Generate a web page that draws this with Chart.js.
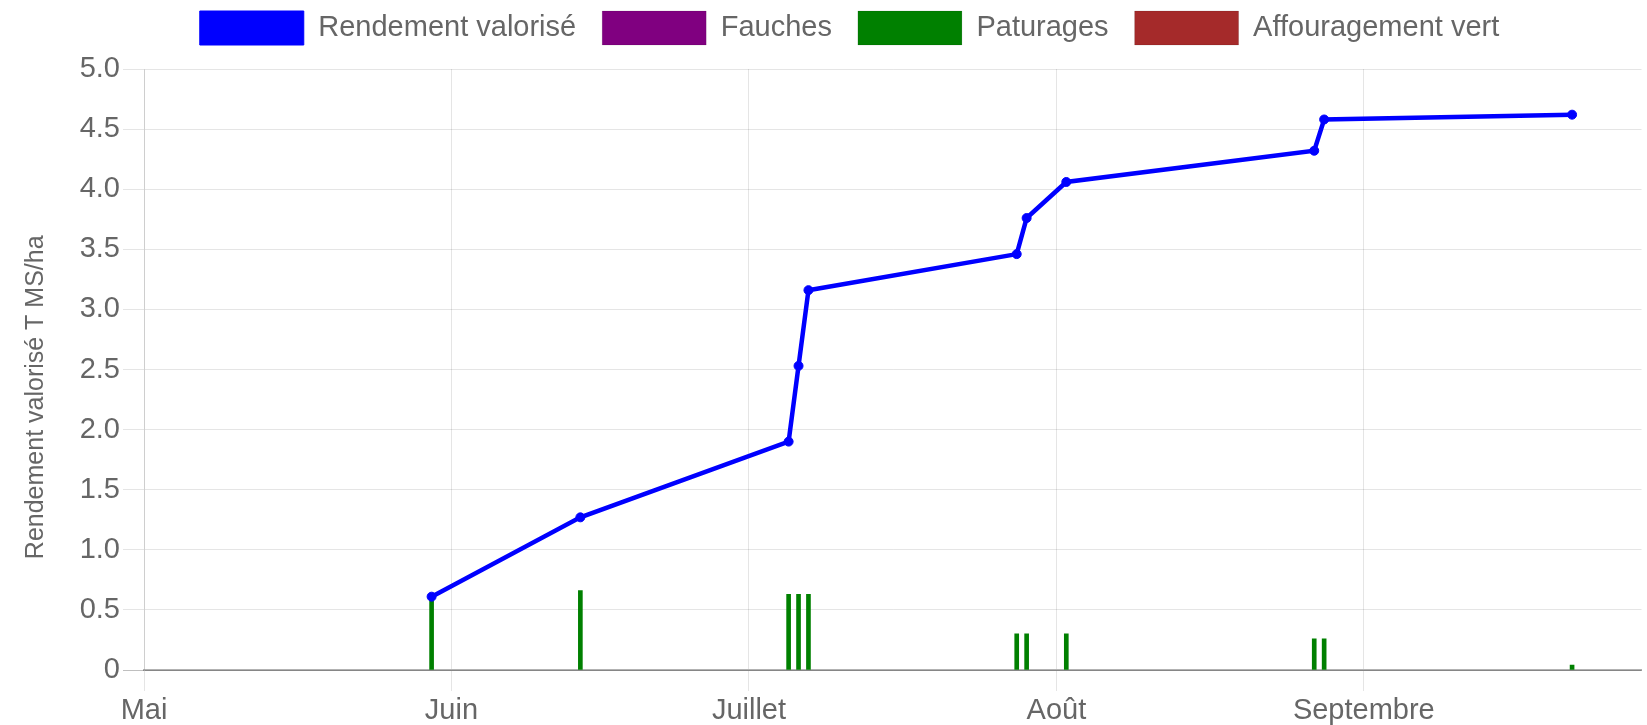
<!DOCTYPE html>
<html lang="fr">
<head>
<meta charset="utf-8">
<title>Rendement valorisé</title>
<script src="https://cdn.jsdelivr.net/npm/chart.js@4.4.0/dist/chart.umd.min.js"></script>
<style>
  html, body { margin: 0; padding: 0; background: #fff; overflow: hidden; }
  #wrap { width: 1647px; height: 725px; }
</style>
</head>
<body>
<div id="wrap"><canvas id="rendementChart"></canvas></div>
<script>
// axe x en jours depuis le 1er mai
const moisDebut = [0, 31, 61, 92, 123];
const moisNoms = ['Mai', 'Juin', 'Juillet', 'Août', 'Septembre'];
const finSaison = 151;

// dates des passages (jours depuis le 1er mai)
const joursPassage = [29, 44, 65, 66, 67, 88, 89, 93, 118, 119, 144];
// rendement valorisé cumulé, T MS/ha
const rendementCumule = [0.61, 1.27, 1.90, 2.53, 3.16, 3.46, 3.76, 4.06, 4.32, 4.58, 4.62];
// part de chaque passage
const paturages = [0.61, 0.66, 0.63, 0.63, 0.63, 0.30, 0.30, 0.30, 0.26, 0.26, 0.04];
const fauches = [];
const affouragementVert = [];

const toPoints = (jours, valeurs) => valeurs.map((v, i) => ({ x: jours[i], y: v }));

Chart.defaults.font.family = "'Liberation Sans', Arial, Helvetica, sans-serif";
Chart.defaults.color = '#666';

// décale la légende comme sur l'original
const legendeDecalee = {
    id: 'legendeDecalee',
    afterLayout(chart) {
        const lg = chart.legend;
        if (!lg) return;
        lg.left += 26;
        lg.right += 26;
        lg.top -= 14;
        lg.bottom -= 14;
    }
};

const ctx = document.getElementById('rendementChart').getContext('2d');
new Chart(ctx, {
    type: 'bar',
    data: {
        datasets: [{
            type: 'line',
            label: 'Rendement valorisé',
            data: toPoints(joursPassage, rendementCumule),
            borderColor: 'blue',
            backgroundColor: 'blue',
            borderWidth: 4.5,
            pointRadius: 4.5,
            pointBorderWidth: 1,
            pointBackgroundColor: 'blue',
            pointBorderColor: 'blue',
            fill: false,
            tension: 0
        }, {
            label: 'Fauches',
            data: toPoints(joursPassage, fauches),
            backgroundColor: 'purple',
            grouped: false,
            barThickness: 4
        }, {
            label: 'Paturages',
            data: toPoints(joursPassage, paturages),
            backgroundColor: 'green',
            grouped: false,
            barThickness: 4
        }, {
            label: 'Affouragement vert',
            data: toPoints(joursPassage, affouragementVert),
            backgroundColor: 'brown',
            grouped: false,
            barThickness: 4
        }]
    },
    options: {
        responsive: true,
        maintainAspectRatio: false,
        animation: false,
        layout: { padding: { top: -1, left: 0, right: 0, bottom: 0 } },
        plugins: {
            legend: {
                position: 'top',
                labels: {
                    boxWidth: 104,
                    boxHeight: 34,
                    padding: 26,
                    font: { size: 29 },
                    generateLabels(chart) {
                        const items = Chart.defaults.plugins.legend.labels.generateLabels(chart);
                        items.forEach(it => { it.lineWidth = 1; });
                        return items;
                    }
                }
            },
            tooltip: { enabled: false }
        },
        scales: {
            x: {
                type: 'linear',
                min: 0,
                max: finSaison,
                offset: false,
                afterBuildTicks(scale) {
                    scale.ticks = moisDebut.map(v => ({ value: v }));
                },
                afterFit(scale) { scale.height = 55; },
                ticks: {
                    autoSkip: false,
                    maxRotation: 0,
                    padding: 3,
                    font: { size: 29 },
                    callback: (v) => moisNoms[moisDebut.indexOf(v)]
                },
                grid: { color: 'rgba(0,0,0,0.1)', tickLength: 21, offset: false },
                border: { color: 'rgba(0,0,0,0.3)', width: 2 }
            },
            y: {
                min: 0,
                max: 5,
                afterFit(scale) { scale.width = 144; },
                ticks: {
                    stepSize: 0.5,
                    padding: 3,
                    font: { size: 29 },
                    callback: (v) => v === 0 ? '0' : v.toFixed(1)
                },
                grid: {
                    color: (c) => c.tick && c.tick.value === 0 ? 'rgba(0,0,0,0.25)' : 'rgba(0,0,0,0.1)',
                    tickLength: 21
                },
                border: { color: 'rgba(0,0,0,0.1)' },
                title: {
                    display: true,
                    // espaces insécables : le titre est un peu plus bas que le centre sur l'original
                    text: 'Rendement valorisé T MS/ha' + '\u00a0'.repeat(8),
                    font: { size: 25 },
                    padding: { top: 21, bottom: 0 }
                }
            }
        }
    },
    plugins: [legendeDecalee]
});
</script>
</body>
</html>
